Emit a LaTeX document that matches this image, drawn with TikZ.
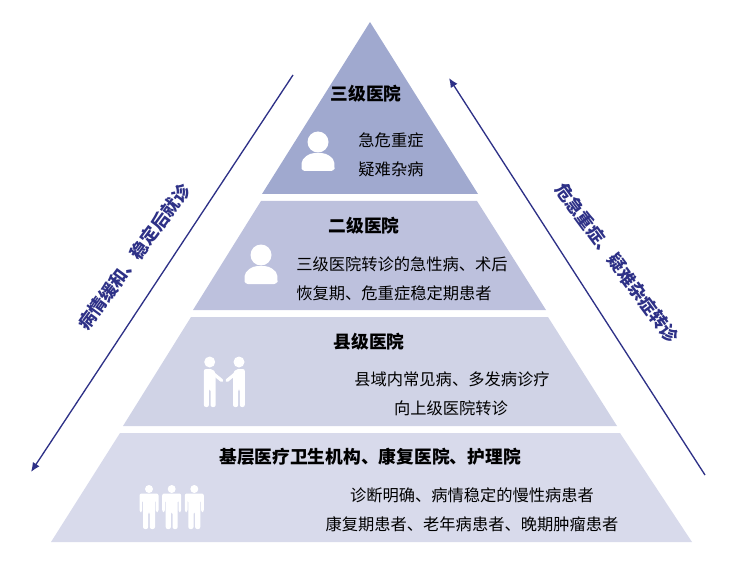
\documentclass[tikz,border=0pt]{standalone}
\usepackage{xcolor}
\usepackage{fontspec}
\setmainfont{Noto Sans CJK SC}
\usetikzlibrary{positioning,arrows.meta}

\definecolor{tierA}{HTML}{A0A9CF}
\definecolor{tierB}{HTML}{BDC1DD}
\definecolor{tierC}{HTML}{D0D3E6}
\definecolor{tierD}{HTML}{D8DAEB}
\definecolor{navy}{HTML}{2E3187}

\tikzset{
  bust/.pic={
    \fill[white] (0,0) circle (10.5);
    \fill[white, rounded corners=2.5pt] (-16.5,29) -- (-16.5,24) .. controls (-16,16) and (-9,11) .. (0,11)
      .. controls (9,11) and (16,16) .. (16.5,24) -- (16.5,29) -- cycle;
  },
  stander/.pic={
    \fill[white] (0,0) circle (4);
    \fill[white, rounded corners=1.5pt] (-9.5,23) -- (-9.5,4.5) -- (9.5,4.5) -- (9.5,23)
      -- (6.8,23) -- (6.8,11) -- (6,11) -- (6,40) -- (0.8,40) -- (0.8,23) -- (-0.8,23)
      -- (-0.8,40) -- (-6,40) -- (-6,11) -- (-6.8,11) -- (-6.8,23) -- cycle;
  },
  greeter/.pic={
    \fill[white] (0,0) circle (5.5);
    \fill[white, rounded corners=1.5pt] (-5.8,24) -- (-5.8,7) -- (3,7) -- (6,11) -- (6,45)
      -- (0.8,45) -- (0.8,27) -- (-0.8,27) -- (-0.8,45) -- (-5.8,45) -- cycle;
    \draw[white, line width=2.4pt, line cap=round] (1,9.5) -- (12,18.5);
  }
}

\begin{document}
\begin{tikzpicture}[
  x=0.75pt, y=-0.75pt,
  title/.style={font=\bfseries\fontsize{13.3}{15}\selectfont, inner sep=0pt},
  body/.style={font=\fontsize{12.2}{14}\selectfont, inner sep=0pt},
  side/.style={font=\bfseries\fontsize{13.2}{15}\selectfont, text=navy, inner sep=0pt},
  flow/.style={-{Latex[length=7pt,width=6pt]}, navy, line width=1pt}
]
\useasboundingbox (0,0) rectangle (739,563);

% pyramid
\fill[tierA] (370,22) -- (478,194) -- (262,194) -- cycle;
\fill[tierB] (261,201) -- (477,201) -- (546,310) -- (193,310) -- cycle;
\fill[tierC] (191,317) -- (548,317) -- (617,426) -- (123,426) -- cycle;
\fill[tierD] (120,433) -- (620,433) -- (692,542) -- (51,542) -- cycle;

% icons
\pic at (318,142) {bust};
\pic at (261,255) {bust};
\pic at (209.7,362) {greeter};
\pic[xscale=-1] at (239,362) {greeter};
\foreach \x in {149,171.7,194.3}
  \pic at (\x,489) {stander};

% tier texts
\node[title] (third) at (366,94) {三级医院};
\node[body] (thirdA) at (391,140) {急危重症};
\node[body] (thirdB) at (391,169) {疑难杂病};
\node[title] (second) at (364,226) {二级医院};
\node[body] (secondA) at (402,264) {三级医院转诊的急性病、术后};
\node[body] (secondB) at (394,293) {恢复期、危重症稳定期患者};
\node[title] (county) at (369,342) {县级医院};
\node[body] (countyA) at (452,379) {县域内常见病、多发病诊疗};
\node[body] (countyB) at (451,408) {向上级医院转诊};
\node[title] (base) at (370,457) {基层医疗卫生机构、康复医院、护理院};
\node[body] (baseA) at (472,495) {诊断明确、病情稳定的慢性病患者};
\node[body] (baseB) at (472,524) {康复期患者、老年病患者、晚期肿瘤患者};

% referral arrows
\coordinate (downstart) at (293,75);
\coordinate (downend) at (31,472);
\coordinate (upstart) at (705,475);
\coordinate (upend) at (449,78);
\draw[flow] (downstart) -- (downend);
\draw[flow] (upstart) -- (upend);

\node[side, rotate=53.5] (downlabel) at (134,257) {病情缓和、稳定后就诊};
\node[side, rotate=-53.5] (uplabel) at (617,263) {危急重症、疑难杂症转诊};
\end{tikzpicture}
\end{document}
